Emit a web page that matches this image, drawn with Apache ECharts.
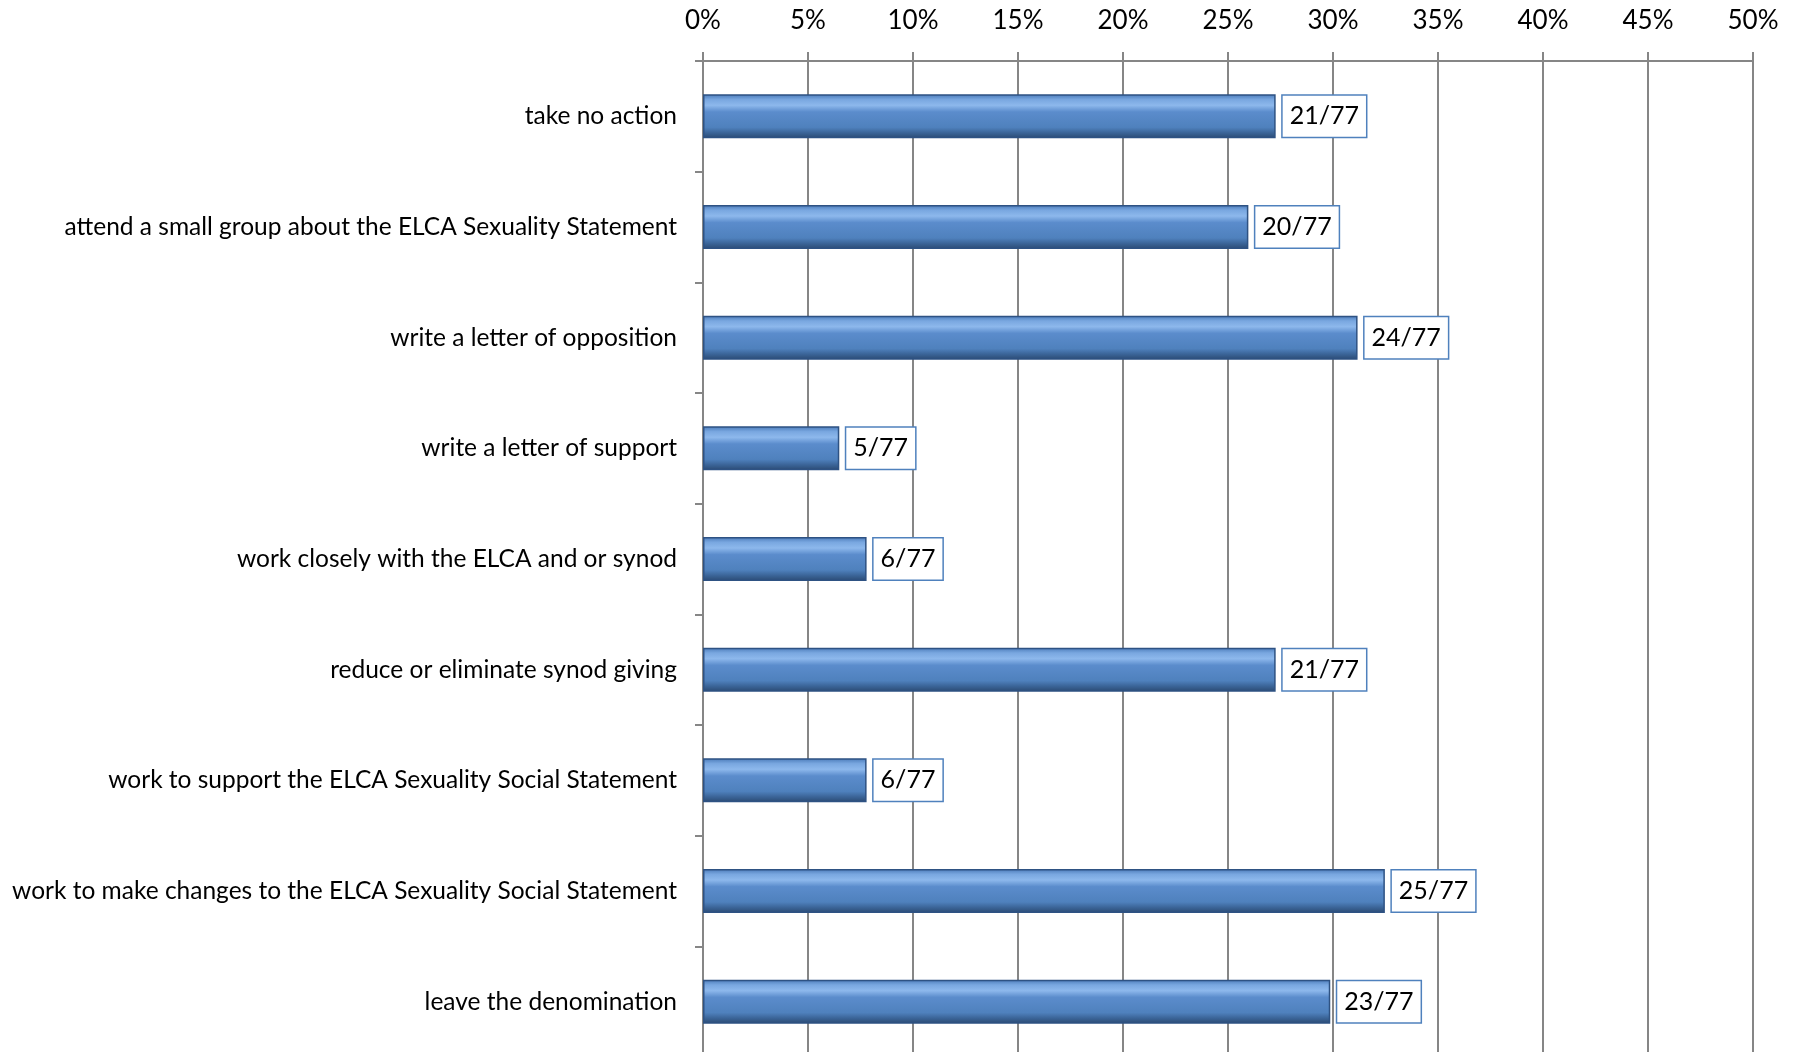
<!DOCTYPE html>
<html><head><meta charset="utf-8">
<script src="https://cdn.jsdelivr.net/npm/echarts@6/dist/echarts.min.js"></script>
<style>html,body{margin:0;padding:0;background:#fff}#c{width:1797px;height:1052px}</style>
</head><body><div id="c"></div>
<script>
const categories = [
  "take no action",
  "attend a small group about the ELCA Sexuality Statement",
  "write a letter of opposition",
  "write a letter of support",
  "work closely with the ELCA and or synod",
  "reduce or eliminate synod giving",
  "work to support the ELCA Sexuality Social Statement",
  "work to make changes to the ELCA Sexuality Social Statement",
  "leave the denomination"
];
const percentValues = [27.27, 25.97, 31.17, 6.49, 7.79, 27.27, 7.79, 32.47, 29.87];
const fractionLabels = ["21/77", "20/77", "24/77", "5/77", "6/77", "21/77", "6/77", "25/77", "23/77"];
const tickLabels = ["0%", "5%", "10%", "15%", "20%", "25%", "30%", "35%", "40%", "45%", "50%"];

const FONT = 'Lato, "Noto Sans", sans-serif';
const chart = echarts.init(document.getElementById('c'), null, {renderer: 'canvas'});
chart.setOption({
  animation: false,
  grid: {left: 703, width: 1050, top: 61, height: 996, containLabel: false, outerBoundsMode: 'none'},
  xAxis: {
    type: 'value', position: 'top', min: 0, max: 50, interval: 5,
    axisLine: {show: true, lineStyle: {color: '#868686', width: 2}},
    axisTick: {show: true, length: 9, lineStyle: {color: '#868686', width: 2}},
    splitLine: {show: true, lineStyle: {color: '#868686', width: 2}},
    axisLabel: {
      margin: 27, color: '#000', fontFamily: FONT, fontSize: 26,
      formatter: function (v) { return tickLabels[Math.round(v / 5)]; }
    }
  },
  yAxis: {
    type: 'category', data: categories, inverse: true,
    axisLine: {show: true, lineStyle: {color: '#868686', width: 2}},
    axisTick: {show: true, length: 8, lineStyle: {color: '#868686', width: 2}},
    axisLabel: {margin: 26, color: '#000', fontFamily: FONT, fontSize: 24.5}
  },
  series: [{
    type: 'bar',
    data: percentValues,
    barWidth: 44,
    itemStyle: {
      color: new echarts.graphic.LinearGradient(0, 0, 0, 1, [
        {offset: 0, color: '#4A7AB8'},
        {offset: 0.12, color: '#79A7E0'},
        {offset: 0.25, color: '#8DB8EC'},
        {offset: 0.4, color: '#5B8CCC'},
        {offset: 0.75, color: '#4F81BD'},
        {offset: 0.88, color: '#3A6396'},
        {offset: 1, color: '#2B4A72'}
      ]),
      borderColor: '#2E5283', borderWidth: 1.5
    },
    label: {
      show: true, position: 'right', distance: 7,
      formatter: function (p) { return fractionLabels[p.dataIndex]; },
      color: '#000', fontFamily: FONT, fontSize: 25, lineHeight: 29,
      backgroundColor: '#fff', borderColor: '#4F81BD', borderWidth: 1.5,
      padding: [6, 7, 6, 7]
    }
  }]
});
</script></body></html>
